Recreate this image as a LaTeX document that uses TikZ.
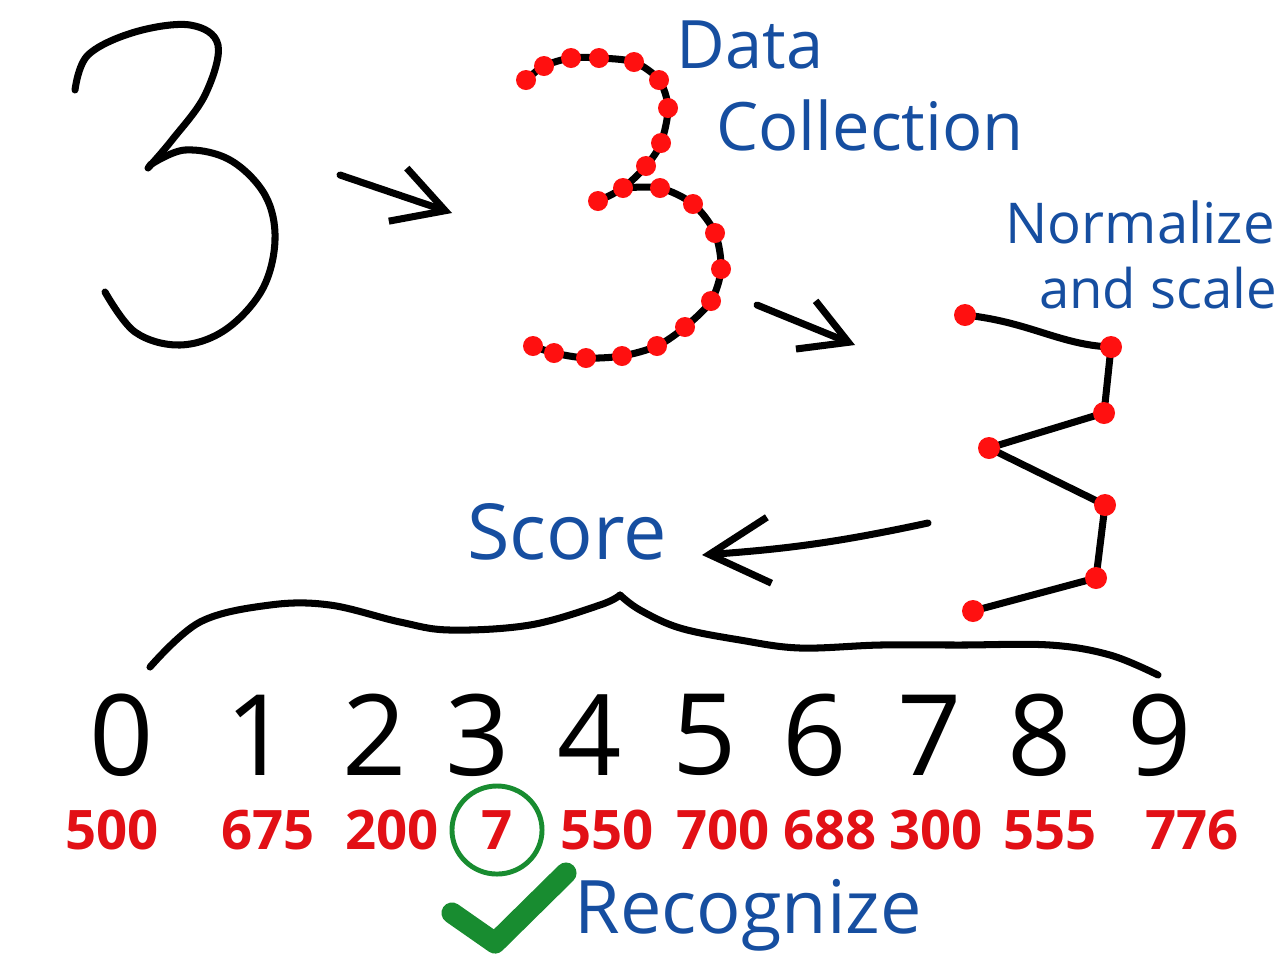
\documentclass[tikz,border=0pt]{standalone}
\usepackage{fontspec}
\setmainfont{Open Sans}
\usetikzlibrary{arrows.meta}
\definecolor{inkblue}{RGB}{22,78,160}
\definecolor{numred}{RGB}{226,16,22}
\definecolor{dotred}{RGB}{255,16,16}
\definecolor{okgreen}{RGB}{24,140,48}

\begin{document}
\begin{tikzpicture}[x=0.01cm, y=-0.01cm,
  pen/.style={line width=2pt, line cap=round, line join=round},
  harrow/.style={pen, -{Straight Barb[length=5mm, width=5.6mm]}},
  lbl/.style={text=inkblue, font=\fontsize{19}{23}\selectfont, inner sep=0pt},
  dig/.style={font=\fontsize{32}{38}\selectfont, inner sep=0pt},
  sc/.style={text=numred, font=\bfseries\fontsize{15.5}{18}\selectfont, inner sep=0pt},
  dot/.style={fill=dotred}]

\useasboundingbox (0,0) rectangle (1280,960);

% =================================================================================
% raw input: the handwritten 3
% =================================================================================
\draw[pen] plot[smooth, tension=0.6] coordinates
  {(75,90) (88,55) (135,32) (190,25) (218,45) (205,95) (172,140) (148,168)};
\draw[pen] plot[smooth, tension=0.6] coordinates
  {(150,165) (185,150) (230,160) (265,195) (275,240) (262,290) (225,330)
   (180,345) (135,332) (105,292)};

\coordinate (a1s) at (340,175);
\coordinate (a1e) at (452,213);
\draw[harrow] (a1s) -- (a1e);

% =================================================================================
% sampled stroke
% =================================================================================
\node[lbl] (data) at (750,45) {Data};
\node[lbl] (coll) at (870,125) {Collection};

\foreach \n/\p in {1/{526,80}, 2/{544,66}, 3/{571,58}, 4/{599,58}, 5/{634,62},
    6/{659,80}, 7/{668,108}, 8/{661,143}, 9/{646,166}, 10/{623,188}, 11/{598,201},
    12/{660,188}, 13/{693,204}, 14/{715,233}, 15/{721,269}, 16/{711,301},
    17/{685,327}, 18/{657,346}, 19/{622,356}, 20/{586,358}, 21/{554,353}, 22/{533,346}}
  \coordinate (s\n) at (\p);

\draw[pen] plot[smooth, tension=0.5] coordinates
  {(s1) (s2) (s3) (s4) (s5) (s6) (s7) (s8) (s9) (s10) (s11)};
\draw[pen] plot[smooth, tension=0.5] coordinates
  {(s10) (s12) (s13) (s14) (s15) (s16) (s17) (s18) (s19) (s20) (s21) (s22)};
\foreach \n in {1,...,22}
  \fill[dot] (s\n) circle[radius=0.1cm];

\coordinate (a2s) at (757,305);
\coordinate (a2e) at (855,345);
\draw[pen, -{Straight Barb[length=4.6mm, width=5.2mm]}] (a2s) -- (a2e);

% =================================================================================
% normalized and scaled
% =================================================================================
\node[lbl, font=\fontsize{16}{19}\selectfont] (norm) at (1140,222) {Normalize};
\node[lbl, font=\fontsize{15.5}{19}\selectfont] (scal) at (1158,288) {and scale};

\foreach \n/\p in {1/{965,315}, 2/{1111,347}, 3/{1104,413}, 4/{989,448},
    5/{1105,505}, 6/{1096,578}, 7/{973,611}}
  \coordinate (q\n) at (\p);

\draw[pen] (q1) .. controls (1030,322) and (1060,345) .. (q2) -- (q3) -- (q4)
  -- (q5) -- (q6) -- (q7);
\foreach \n in {1,...,7}
  \fill[dot] (q\n) circle[radius=0.11cm];

% =================================================================================
% score against every template
% =================================================================================
\node[lbl, font=\fontsize{22}{26}\selectfont] (score) at (567,532) {Score};

\coordinate (a3s) at (928,523);
\coordinate (a3e) at (702,555);
\draw[pen, -{Straight Barb[length=6mm, width=6.6mm]}] (a3s) to[bend left=4] (a3e);

\draw[pen] plot[smooth, tension=0.6] coordinates
  {(150,667) (200,622) (270,605) (330,605) (400,622) (450,630) (530,625)
   (600,605) (620,595)};
\draw[pen] plot[smooth, tension=0.6] coordinates
  {(620,595) (640,610) (680,628) (740,640) (800,648) (880,645) (960,645)
   (1050,645) (1110,655) (1158,675)};

\foreach \d/\x in {0/122, 1/258, 2/375, 3/478, 4/590, 5/705, 6/815, 7/930, 8/1040, 9/1160}
  \node[dig] (t\d) at (\x,735) {\d};

\foreach \d/\x/\v in {0/112/500, 1/268/675, 2/392/200, 3/497/7, 4/607/550,
    5/723/700, 6/830/688, 7/936/300, 8/1050/555, 9/1192/776}
  \node[sc] (v\d) at (\x,830) {\v};

% =================================================================================
% best match
% =================================================================================
\draw[okgreen, line width=1.4pt] (v3) ellipse[x radius=0.45cm, y radius=0.44cm];
\coordinate (c1) at (452,913);
\coordinate (c2) at (495,943);
\coordinate (c3) at (566,873);
\draw[okgreen, line width=6pt, line cap=round, line join=round] (c1) -- (c2) -- (c3);

\node[lbl, font=\fontsize{21}{25}\selectfont] (recog) at (748,915) {Recognize};

\end{tikzpicture}
\end{document}
